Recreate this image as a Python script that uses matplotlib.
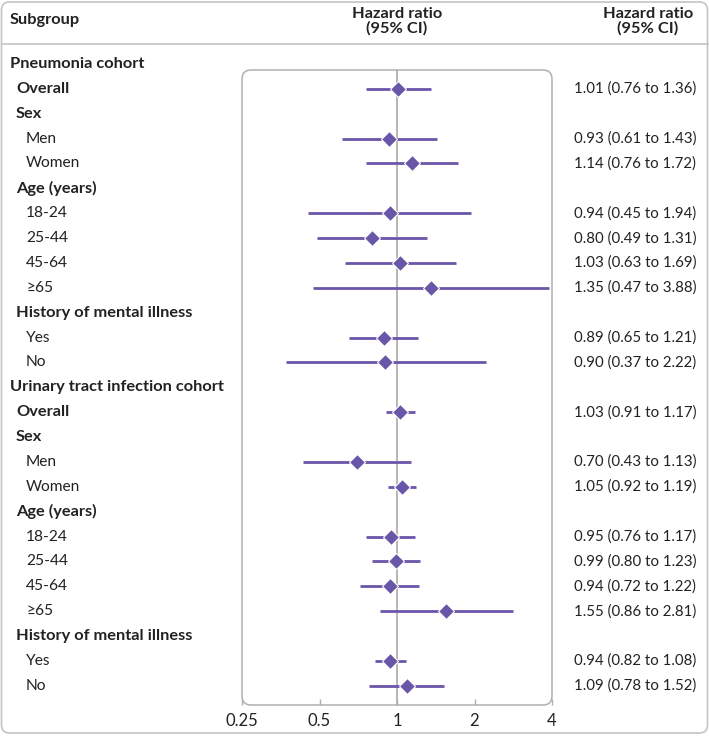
import matplotlib
matplotlib.use("Agg")
import matplotlib.pyplot as plt
from matplotlib.patches import FancyBboxPatch
from matplotlib.transforms import blended_transform_factory
import numpy as np

# ---- data ----
labels = ["Pneumonia cohort", "Overall", "Sex", "Men", "Women", "Age (years)",
          "18-24", "25-44", "45-64", "≥65", "History of mental illness", "Yes", "No",
          "Urinary tract infection cohort", "Overall", "Sex", "Men", "Women", "Age (years)",
          "18-24", "25-44", "45-64", "≥65", "History of mental illness", "Yes", "No"]
# level: 0 cohort heading, 1 bold subgroup, 2 item
levels = [0, 1, 1, 2, 2, 1, 2, 2, 2, 2, 1, 2, 2,
          0, 1, 1, 2, 2, 1, 2, 2, 2, 2, 1, 2, 2]
hr = [None, 1.01, None, 0.93, 1.14, None, 0.94, 0.80, 1.03, 1.35, None, 0.89, 0.90,
      None, 1.03, None, 0.70, 1.05, None, 0.95, 0.99, 0.94, 1.55, None, 0.94, 1.09]
lo = [None, 0.76, None, 0.61, 0.76, None, 0.45, 0.49, 0.63, 0.47, None, 0.65, 0.37,
      None, 0.91, None, 0.43, 0.92, None, 0.76, 0.80, 0.72, 0.86, None, 0.82, 0.78]
hi = [None, 1.36, None, 1.43, 1.72, None, 1.94, 1.31, 1.69, 3.88, None, 1.21, 2.22,
      None, 1.17, None, 1.13, 1.19, None, 1.17, 1.23, 1.22, 2.81, None, 1.08, 1.52]
xticks = [0.25, 0.5, 1, 2, 4]
xticklabels = ["0.25", "0.5", "1", "2", "4"]

W, H = 709, 736
plt.rcParams['font.family'] = ['Lato', 'DejaVu Sans']
fig = plt.figure(figsize=(W / 100, H / 100), dpi=100)

purple = "#6a56a9"
gray = "#b0b0b0"
txt = "#222222"
fs_bold = 11.8
fs_norm = 11.2
fs_val = 10.8

# outer frame
frame = FancyBboxPatch((1.5 / W, 3 / H), (W - 3) / W, (H - 5) / H,
                       boxstyle="round,pad=0,rounding_size=%f" % (8 / W),
                       mutation_aspect=W / H, transform=fig.transFigure,
                       fill=False, edgecolor="#c4c4c4", lw=1.2)
fig.add_artist(frame)
fig.add_artist(plt.Line2D([1.5 / W, 1 - 1.5 / W], [1 - 44 / H, 1 - 44 / H],
                          transform=fig.transFigure, color="#c4c4c4", lw=1.2))

# header
fig.text(10 / W, 1 - 20 / H, "Subgroup", ha="left", va="center", fontsize=fs_bold,
         fontweight="bold", color=txt)
fig.text(397 / W, 1 - 21 / H, "Hazard ratio\n(95% CI)", ha="center", va="center",
         fontsize=fs_bold, fontweight="bold", color=txt, linespacing=1.0)
fig.text(648 / W, 1 - 21 / H, "Hazard ratio\n(95% CI)", ha="center", va="center",
         fontsize=fs_bold, fontweight="bold", color=txt, linespacing=1.0)

# forest axes
left, right, top, bottom = 242, 552, 70, 705
ax = fig.add_axes([left / W, 1 - bottom / H, (right - left) / W, (bottom - top) / H])
ax.set_xscale("log", base=2)
ax.set_xlim(0.25, 4)
y0, dy = 64, 24.87
ax.set_ylim((bottom - y0) / dy, (top - y0) / dy)
for s in ax.spines.values():
    s.set_visible(False)
ax.patch.set_alpha(0)

box = FancyBboxPatch((left / W, 1 - bottom / H), (right - left) / W, (bottom - top) / H,
                     boxstyle="round,pad=0,rounding_size=%f" % (9 / W),
                     mutation_aspect=W / H, transform=fig.transFigure,
                     fill=False, edgecolor=gray, lw=1.1, zorder=0)
fig.add_artist(box)
ax.axvline(1, color=gray, lw=1.3, zorder=1)

ax.set_xticks(xticks)
ax.set_xticklabels(xticklabels)
ax.minorticks_off()
ax.tick_params(axis="x", direction="in", length=4, width=1, color=gray,
               labelsize=12, labelcolor=txt, pad=6)
ax.set_yticks([])

yidx = np.arange(len(labels))
tr = blended_transform_factory(fig.transFigure, ax.transData)
xpos = {0: 10, 1: 16, 2: 26}
for i, (lab, lev) in enumerate(zip(labels, levels)):
    ax.text(xpos[lev] / W, yidx[i], lab, transform=tr, ha="left", va="center",
            fontsize=fs_norm if lev == 2 else fs_bold,
            fontweight="normal" if lev == 2 else "bold", color=txt)
    if hr[i] is not None:
        ax.plot([lo[i], hi[i]], [yidx[i], yidx[i]], color=purple, lw=2,
                solid_capstyle="butt", zorder=3)
        ax.plot(hr[i], yidx[i], marker="D", ms=8.5, color=purple, mec="white",
                mew=0.8, zorder=4)
        ax.text(696 / W, yidx[i], "%.2f (%.2f to %.2f)" % (hr[i], lo[i], hi[i]),
                transform=tr, ha="right", va="center", fontsize=fs_val, color=txt)

fig.savefig("out.png", dpi=100)
